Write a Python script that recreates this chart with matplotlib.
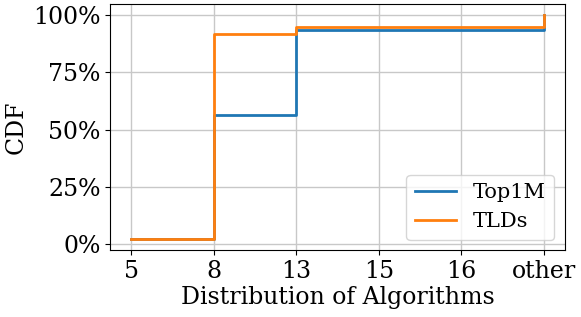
import matplotlib
matplotlib.use("Agg")
import matplotlib.pyplot as plt
from matplotlib.ticker import PercentFormatter

categories = ["5", "8", "13", "15", "16", "other"]
top1m = [0.022, 0.565, 0.935, 0.935, 0.935, 1.0]
tlds = [0.022, 0.917, 0.948, 0.948, 0.948, 1.0]

plt.rcParams['font.family'] = ['DejaVu Serif']
plt.rcParams['font.size'] = 17

fig, ax = plt.subplots(figsize=(5.81, 3.17), dpi=100)
x = list(range(len(categories)))
ax.step(x, top1m, where='post', label='Top1M', color='#1f77b4', linewidth=2)
ax.step(x, tlds, where='post', label='TLDs', color='#ff7f0e', linewidth=2)
ax.set_xticks(x)
ax.set_xticklabels(categories)
ax.set_yticks([0, 0.25, 0.5, 0.75, 1.0])
ax.yaxis.set_major_formatter(PercentFormatter(1.0, decimals=0))
ax.set_xlabel('Distribution of Algorithms', labelpad=2)
ax.set_ylabel('CDF')
ax.grid(True, color='#c8c8c8', linewidth=1)
ax.legend(loc='lower right', fontsize=15)
fig.subplots_adjust(left=0.19, right=0.972, top=0.987, bottom=0.211)
fig.savefig('out.png')
